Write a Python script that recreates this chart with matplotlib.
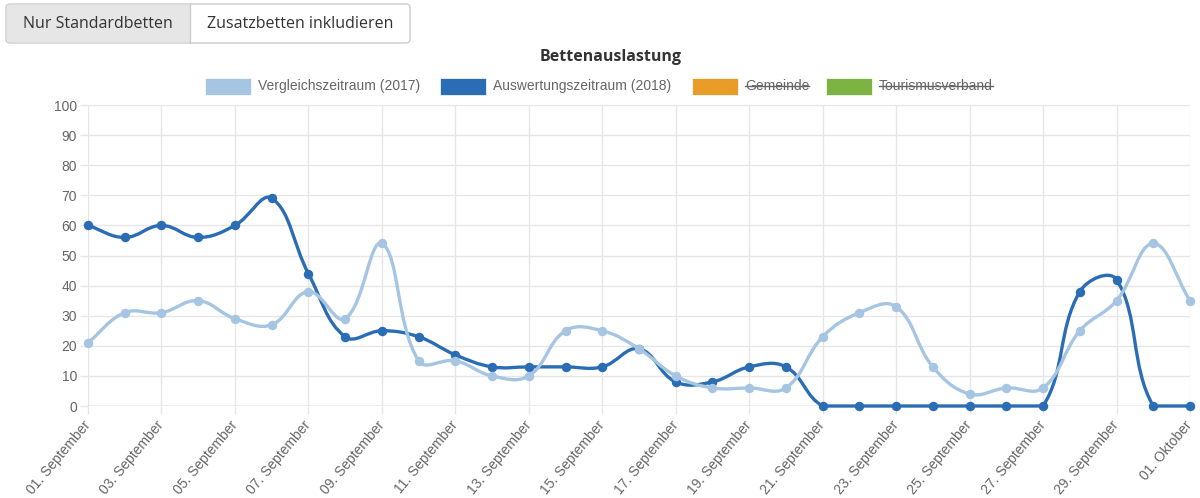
import numpy as np
import matplotlib
matplotlib.use('Agg')
import matplotlib.pyplot as plt
from matplotlib.path import Path
from matplotlib.patches import PathPatch, Rectangle, FancyBboxPatch
from matplotlib.lines import Line2D

# Bettenauslastung September 2017 vs. 2018 (in %)
tage = [f'{d:02d}. September' for d in range(1, 31)] + ['01. Oktober']
vergleich_2017 = [21, 31, 31, 35, 29, 27, 38, 29, 54, 15,
                  15, 10, 10, 25, 25, 19, 10, 6, 6, 6,
                  23, 31, 33, 13, 4, 6, 6, 25, 35, 54, 35]
auswertung_2018 = [60, 56, 60, 56, 60, 69, 44, 23, 25, 23,
                   17, 13, 13, 13, 13, 19, 8, 8, 13, 13,
                   0, 0, 0, 0, 0, 0, 0, 38, 42, 0, 0]
legend_labels = ['Vergleichszeitraum (2017)', 'Auswertungszeitraum (2018)', 'Gemeinde', 'Tourismusverband']
legend_hidden = [False, False, True, True]

HELL = '#a6c5e2'
DUNKEL = '#2a6db5'
ORANGE = '#e99c2a'
GRUEN = '#7cb342'
GRID = '#e6e6e6'
TXT = '#666666'

W, H = 1200, 498
fig = plt.figure(figsize=(W / 100, H / 100), dpi=100)
fig.patch.set_facecolor('white')

# plot area in pixels (left, top, right, bottom)
L, T, R, B = 88, 105, 1190, 406
ax = fig.add_axes([L / W, (H - B) / H, (R - L) / W, (B - T) / H])
ax.set_xlim(0, len(tage) - 1)
ax.set_ylim(0, 100)

px_x = (R - L) / (len(tage) - 1)
px_y = (B - T) / 100


def spline_path(vals, tension=0.4):
    # bezier spline like Chart.js: control points from neighbours, capped to chart area
    n = len(vals)
    pts = np.array([[i * px_x, v * px_y] for i, v in enumerate(vals)])
    ctrl_prev = pts.copy()
    ctrl_next = pts.copy()
    for i in range(n):
        p0 = pts[max(i - 1, 0)]
        p1 = pts[i]
        p2 = pts[min(i + 1, n - 1)]
        d01 = np.hypot(*(p1 - p0))
        d12 = np.hypot(*(p2 - p1))
        tot = d01 + d12
        s01 = d01 / tot if tot else 0
        s12 = d12 / tot if tot else 0
        ctrl_prev[i] = p1 - tension * s01 * (p2 - p0)
        ctrl_next[i] = p1 + tension * s12 * (p2 - p0)
    for c in (ctrl_prev, ctrl_next):
        c[:, 0] = np.clip(c[:, 0], 0, (n - 1) * px_x)
        c[:, 1] = np.clip(c[:, 1], 0, 100 * px_y)
    verts = [pts[0]]
    codes = [Path.MOVETO]
    for i in range(n - 1):
        verts += [ctrl_next[i], ctrl_prev[i + 1], pts[i + 1]]
        codes += [Path.CURVE4] * 3
    verts = np.array(verts)
    verts[:, 0] /= px_x
    verts[:, 1] /= px_y
    return Path(verts, codes)


x = np.arange(len(tage))
for vals, col, z in [(auswertung_2018, DUNKEL, 3), (vergleich_2017, HELL, 4)]:
    ax.add_patch(PathPatch(spline_path(vals), facecolor='none', edgecolor=col,
                           lw=2.4, zorder=z, clip_on=False, capstyle='round', joinstyle='round'))
    ax.plot(x, vals, 'o', color=col, ms=5.8, zorder=z, clip_on=False)

# axes and grid
for s in ax.spines.values():
    s.set_visible(False)
ax.set_yticks(range(0, 101, 10))
ax.set_xticks(x[::2])
ax.set_xticklabels(tage[::2], rotation=50, ha='right', va='center',
                   rotation_mode='anchor')
ax.grid(True, color=GRID, lw=1)
ax.axhline(0, color='#c4c4c4', lw=1, zorder=2)
ax.tick_params(axis='both', colors=GRID, length=6, width=1, labelcolor=TXT, labelsize=10)
ax.tick_params(axis='y', pad=2)
ax.tick_params(axis='x', pad=6)
for lab in ax.get_xticklabels() + ax.get_yticklabels():
    lab.set_family('Liberation Sans')
ax.set_axisbelow(True)


def fy(y):
    return H - y


# toggle buttons
btns = [(6, 190, 'Nur Standardbetten'), (190, 410, 'Zusatzbetten inkludieren')]
fig.patches.append(FancyBboxPatch((6, fy(43)), 404, 39, boxstyle='round,pad=0,rounding_size=4',
                                  transform=None, facecolor='white', edgecolor='#cccccc', lw=1))
fig.patches.append(Rectangle((7, fy(42)), 183, 37, transform=None, facecolor='#e6e6e6',
                             edgecolor='none'))
fig.add_artist(Line2D([190, 190], [fy(43), fy(4)], transform=None, color='#cccccc', lw=1))
for x0, x1, txt in btns:
    fig.text((x0 + x1) / 2 / W, fy(24) / H, txt, ha='center', va='center',
             fontsize=11.5, family='Open Sans', color='#333333')

fig.text(611 / W, fy(57) / H, 'Bettenauslastung', ha='center', va='center',
         fontsize=11.5, weight='bold', family='Open Sans', color='#333333')

# legend
leg_items = [(205, HELL), (440, DUNKEL), (692, ORANGE), (826, GRUEN)]
for (bx, col), lab, hidden in zip(leg_items, legend_labels, legend_hidden):
    fig.patches.append(Rectangle((bx, fy(95)), 46, 17, transform=None, facecolor=col,
                                 edgecolor='white', lw=0.5))
    t = fig.text((bx + 53) / W, fy(86) / H, lab, ha='left', va='center',
                 fontsize=10, family='Liberation Sans', color=TXT)
    if hidden:
        fig.canvas.draw()
        bb = t.get_window_extent()
        fig.add_artist(Line2D([bb.x0, bb.x1], [fy(86), fy(86)], transform=None,
                              color=TXT, lw=1))

fig.savefig('out.png', dpi=100)
